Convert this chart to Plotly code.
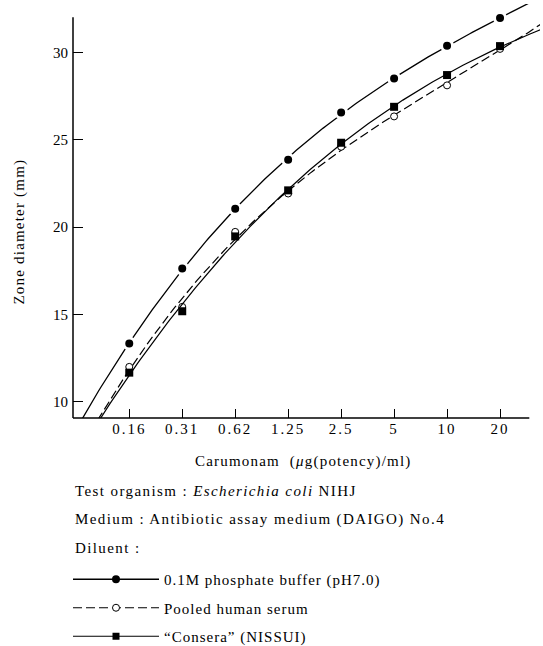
import numpy as np
import plotly.graph_objects as go

# Carumonam concentration (µg(potency)/ml) and printed tick labels
conc = [0.15625, 0.3125, 0.625, 1.25, 2.5, 5, 10, 20]
conc_labels = ["0.16", "0.31", "0.62", "1.25", "2.5", "5", "10", "20"]

# Zone diameters (mm) for each diluent
phosphate = [13.33, 17.63, 21.05, 23.86, 26.58, 28.53, 30.40, 31.99]
serum = [11.99, 15.43, 19.73, 21.93, 24.61, 26.35, 28.13, 30.22]
consera = [11.66, 15.18, 19.47, 22.11, 24.84, 26.90, 28.72, 30.38]

y_ticks = [10, 15, 20, 25, 30]

FONT = "Liberation Serif"
W, H = 543, 646
ML, MR, MT, MB = 72.7, 3, 4, 228.3
PW, PH = W - ML - MR, H - MT - MB


def px_x(px):
    return (px - ML) / PW


def px_y(py):
    return (H - MB - py) / PH


def spaced(text, ls=1.0):
    return f"<span style='letter-spacing:{ls}px'>{text}</span>"


def fit_curve(vals, x_lo, x_hi, deg=3):
    lx = np.log2(conc)
    coef = np.polyfit(lx, vals, deg)
    grid = np.linspace(np.log2(x_lo), np.log2(x_hi), 200)
    return 2 ** grid, np.polyval(coef, grid)


fig = go.Figure()

# serum: dashed fit + open circles
sx, sy = fit_curve(serum, 0.05, 34)
fig.add_trace(go.Scatter(x=sx, y=sy, mode="lines", showlegend=False,
                         line=dict(color="black", width=1.2, dash="9px,4px")))
fig.add_trace(go.Scatter(x=conc, y=serum, mode="markers", showlegend=False,
                         marker=dict(symbol="circle", size=7, color="white",
                                     line=dict(color="black", width=1))))

# Consera: solid fit + filled squares
cx, cy = fit_curve(consera, 0.05, 34)
fig.add_trace(go.Scatter(x=cx, y=cy, mode="lines", showlegend=False,
                         line=dict(color="black", width=1.2)))
fig.add_trace(go.Scatter(x=conc, y=consera, mode="markers", showlegend=False,
                         marker=dict(symbol="square", size=8, color="black",
                                     line=dict(width=0))))

# phosphate buffer: solid fit broken around filled circles
px_, py_ = fit_curve(phosphate, 0.05, 29)
fig.add_trace(go.Scatter(x=px_, y=py_, mode="lines", showlegend=False,
                         line=dict(color="black", width=1.3)))
fig.add_trace(go.Scatter(x=conc, y=phosphate, mode="markers", showlegend=False,
                         marker=dict(symbol="circle", size=11, color="black",
                                     line=dict(color="white", width=3))))

# legend keys
fig.add_trace(go.Scatter(x=[None], y=[None], mode="lines+markers",
                         name=spaced("0.1M phosphate buffer (pH7.0)"),
                         legendgroup="a", legendrank=1,
                         line=dict(color="black", width=1.3),
                         marker=dict(symbol="circle", size=8, color="black")))
fig.add_trace(go.Scatter(x=[None], y=[None], mode="lines+markers",
                         name=spaced("Pooled human serum"),
                         legendgroup="b", legendrank=2,
                         line=dict(color="black", width=1.2, dash="9px,4px"),
                         marker=dict(symbol="circle", size=7, color="white",
                                     line=dict(color="black", width=1))))
fig.add_trace(go.Scatter(x=[None], y=[None], mode="lines+markers",
                         name=spaced("\u201cConsera\u201d (NISSUI)"),
                         legendgroup="c", legendrank=3,
                         line=dict(color="black", width=1.2),
                         marker=dict(symbol="square", size=7, color="black")))

# 0.156 sits at px 129, 53 px per doubling of concentration
xr = [np.log10(0.15625 * 2 ** ((ML - 129.0) / 53.0)),
      np.log10(0.15625 * 2 ** ((W - MR - 129.0) / 53.0))]

fig.update_layout(
    width=W, height=H,
    margin=dict(l=ML, r=MR, t=MT, b=MB, pad=0, autoexpand=False),
    paper_bgcolor="white", plot_bgcolor="white",
    font=dict(family=FONT, color="black", size=15),
    showlegend=True,
    legend=dict(xref="container", yref="container", x=68 / W, y=1 - 563 / H,
                xanchor="left", yanchor="top", bgcolor="rgba(0,0,0,0)",
                itemwidth=86, tracegroupgap=6, font=dict(family=FONT, size=15)),
    xaxis=dict(type="log", range=xr, tickmode="array", tickvals=conc,
               ticktext=[spaced(t, 2) for t in conc_labels], tickangle=0,
               ticks="inside", ticklen=9, tickwidth=1.3, tickcolor="black",
               showline=False, showgrid=False, zeroline=False,
               tickfont=dict(family=FONT, size=15)),
    yaxis=dict(range=[9.06, 10 + (401.3 - MT) / 17.43], tickmode="array",
               tickvals=y_ticks, ticks="inside", ticklen=10, tickwidth=1.3,
               tickcolor="black", showline=False, showgrid=False,
               zeroline=False, ticklabelstandoff=4,
               tickfont=dict(family=FONT, size=15)),
    shapes=[
        dict(type="line", xref="paper", yref="paper", x0=0, x1=px_x(529.3),
             y0=0, y1=0, line=dict(color="black", width=1.5)),
        dict(type="line", xref="paper", yref="paper", x0=0, x1=0,
             y0=0, y1=px_y(17.3), line=dict(color="black", width=1.5)),
    ],
)

notes = [
    (19, 231, spaced("Zone diameter (mm)", 1.2), "center", -90),
    (303, 461, spaced("Carumonam  (<i>\u03bc</i>g(potency)/ml)", 1.2), "center", 0),
    (73, 491, spaced("Test organism : <i>Escherichia coli</i> NIHJ", 1.4), "left", 0),
    (73, 519, spaced("Medium : Antibiotic assay medium (DAIGO) No.4", 1.4), "left", 0),
    (73, 548, spaced("Diluent :", 1.4), "left", 0),
]
for x, y, txt, anchor, ang in notes:
    fig.add_annotation(xref="paper", yref="paper", x=px_x(x), y=px_y(y),
                       text=txt, showarrow=False, xanchor=anchor,
                       yanchor="middle", textangle=ang,
                       font=dict(family=FONT, size=15, color="black"))

fig.write_html("out.html")
